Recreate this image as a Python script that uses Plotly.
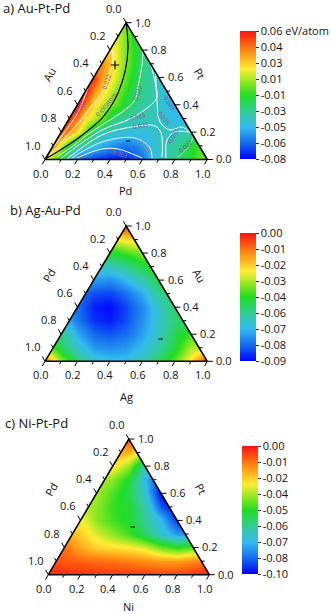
import plotly.graph_objects as go

W, H = 331, 614
FONT = "Open Sans"

# Colour map
COLORS = [[0.0, "#0000ff"], [0.12, "#1468f0"], [0.25, "#33bbee"], [0.37, "#33cc99"],
          [0.5, "#22dd22"], [0.6, "#8ee822"], [0.7, "#ffee33"], [0.85, "#ff8811"], [1.0, "#ff1111"]]

# Energy surfaces sampled on a rectangular grid over the triangle plane
# (rows: bottom to top; outside-triangle cells repeat the nearest edge value)
GRID_X_A = [i / 20 for i in range(21)]
GRID_X_BC = [i / 10 for i in range(11)]
GRID_Y = [i / 10 for i in range(11)]

Z_A = [
 [.03,-.004,-.02,-.035,-.063,-.066,-.072,-.075,-.078,-.077,-.075,-.068,-.063,-.045,-.04,-.033,-.027,-.018,-.012,-.003,.005],
 [.042,.042,.012,-.012,-.032,-.036,-.041,-.048,-.053,-.057,-.06,-.058,-.052,-.044,-.037,-.033,-.028,-.022,-.013,-.005,-.005],
 [.052,.052,.052,.038,.018,0,-.025,-.034,-.036,-.038,-.04,-.041,-.041,-.04,-.036,-.036,-.036,-.035,-.032,-.032,-.032],
 [.058,.058,.058,.056,.04,.018,.01,0,-.018,-.026,-.031,-.033,-.034,-.034,-.036,-.041,-.044,-.046,-.046,-.046,-.046],
 [.06,.06,.06,.06,.06,.042,.02,.011,.003,-.004,-.015,-.024,-.029,-.032,-.037,-.044,-.048,-.048,-.048,-.048,-.048],
 [.06,.06,.06,.06,.06,.06,.038,.024,.012,.001,-.008,-.019,-.025,-.03,-.037,-.044,-.044,-.044,-.044,-.044,-.044],
 [.054,.054,.054,.054,.054,.054,.054,.034,.022,.009,-.003,-.014,-.024,-.03,-.037,-.037,-.037,-.037,-.037,-.037,-.037],
 [.04,.04,.04,.04,.04,.04,.04,.04,.027,.013,.001,-.01,-.022,-.033,-.033,-.033,-.033,-.033,-.033,-.033,-.033],
 [.024,.024,.024,.024,.024,.024,.024,.024,.024,.012,.001,-.01,-.022,-.022,-.022,-.022,-.022,-.022,-.022,-.022,-.022],
 [.012,.012,.012,.012,.012,.012,.012,.012,.012,.012,0,-.012,-.012,-.012,-.012,-.012,-.012,-.012,-.012,-.012,-.012],
 [.004,.004,.004,.004,.004,.004,.004,.004,.004,.004,0,-.004,-.004,-.004,-.004,-.004,-.004,-.004,-.004,-.004,-.004],
]
Z_B = [
 [-.01,-.035,-.052,-.063,-.066,-.066,-.06,-.05,-.04,-.025,-.003],
 [-.035,-.05,-.063,-.072,-.074,-.072,-.066,-.058,-.047,-.033,-.033],
 [-.055,-.055,-.07,-.079,-.081,-.078,-.071,-.061,-.05,-.042,-.042],
 [-.065,-.065,-.077,-.085,-.087,-.082,-.073,-.063,-.053,-.053,-.053],
 [-.078,-.078,-.078,-.087,-.089,-.083,-.074,-.062,-.052,-.052,-.052],
 [-.078,-.078,-.078,-.082,-.083,-.078,-.069,-.056,-.05,-.05,-.05],
 [-.072,-.072,-.072,-.072,-.074,-.068,-.059,-.048,-.048,-.048,-.048],
 [-.06,-.06,-.06,-.06,-.061,-.056,-.048,-.042,-.042,-.042,-.042],
 [-.047,-.047,-.047,-.047,-.047,-.043,-.037,-.037,-.037,-.037,-.037],
 [-.03,-.03,-.03,-.03,-.03,-.025,-.023,-.023,-.023,-.023,-.023],
 [-.005,-.005,-.005,-.005,-.005,-.005,-.005,-.005,-.005,-.005,-.005],
]
Z_C = [
 [-.002,-.004,-.004,-.005,-.005,-.005,-.005,-.006,-.006,-.004,-.002],
 [-.008,-.009,-.010,-.011,-.012,-.014,-.016,-.018,-.018,-.015,-.012],
 [-.012,-.012,-.02,-.026,-.028,-.03,-.034,-.043,-.05,-.045,-.045],
 [-.02,-.02,-.025,-.033,-.04,-.047,-.058,-.07,-.08,-.08,-.08],
 [-.03,-.03,-.03,-.04,-.047,-.052,-.063,-.075,-.095,-.095,-.095],
 [-.035,-.035,-.035,-.04,-.048,-.052,-.065,-.09,-.1,-.1,-.1],
 [-.038,-.038,-.038,-.038,-.046,-.055,-.072,-.1,-.1,-.1,-.1],
 [-.036,-.036,-.036,-.036,-.04,-.052,-.075,-.095,-.095,-.095,-.095],
 [-.028,-.028,-.028,-.028,-.028,-.04,-.068,-.068,-.068,-.068,-.068],
 [-.018,-.018,-.018,-.018,-.018,-.022,-.035,-.035,-.035,-.035,-.035],
 [-.008,-.008,-.008,-.008,-.008,-.008,-.008,-.008,-.008,-.008,-.008],
]

# Iso-energy curves of panel a, as (Pd, Pt) compositions
ISO_ZERO_PD = [0, .104, .173, .207, .212, .200, .149, .078, .007]
ISO_ZERO_PT = [1, .815, .640, .486, .413, .303, .194, .091, .011]
ISO_P022_PD = [.013, .056, .084, .111, .089, .076, .045, .014]
ISO_P022_PT = [.800, .727, .632, .493, .376, .281, .157, .033]
ISO_P043_PD = [.003, .028, .029, .014, .003]
ISO_P043_PT = [.523, .376, .274, .157, .055]
ISO_M022_PD = [.204, .252, .308, .337, .312, .225, .180, .123, .065]
ISO_M022_PT = [.800, .691, .530, .435, .362, .252, .194, .099, .018]
ISO_M033_PD = [.303, .370, .461, .459, .384, .243, .118, .092]
ISO_M033_PT = [.697, .603, .457, .413, .303, .216, .048, 0]
ISO_M035_PD = [.712, .618, .555, .417, .261, .150, .130]
ISO_M035_PT = [.018, .194, .245, .238, .179, .033, 0]
ISO_M043_PD = [.654, .605, .476, .287, .160]
ISO_M043_PT = [.011, .084, .157, .128, .011]
ISO_M063_PD = [.192, .312, .411, .538, .592]
ISO_M063_PT = [.011, .077, .077, .033, .011]
ISO_R1_PD = [.365, .472, .572, .662, .725, .80]
ISO_R1_PT = [.635, .435, .274, .216, .238, .193]
ISO_R2_PD = [.740, .680, .700, .79]
ISO_R2_PT = [.011, .143, .201, .20]
ISO_R3_PD = [.808, .840, .830]
ISO_R3_PT = [.011, .106, .164]

LABEL_TEXT = ["-0.063", "0.022", "0 eV/atom", "-0.022", "-0.043", "-0.033", "-0.035", "-0.035",
              "-0.043", "-0.033", "-0.022", "-0.063"]
LABEL_PD = [.029, .096, .177, .334, .555, .409, .463, .579, .570, .703, .816, .439]
LABEL_PT = [.373, .568, .398, .483, .410, .312, .244, .300, .093, .166, .093, .039]
LABEL_ANGLE = [-60, -70, -50, -70, 60, -15, -10, 50, 50, -60, -40, 15]
LABEL_COLOR = ["#7a4fa0"] * 8 + ["#a8805a", "#6a4fb0", "#6a4fb0", "#a8805a"]

AXIS_TICKS = ["0.0", "0.2", "0.4", "0.6", "0.8", "1.0"]
TICK_VALUES = [0, .2, .4, .6, .8, 1]
MINOR_VALUES = [.1, .3, .5, .7, .9]

BAR_A = ["-0.08", "-0.06", "-0.05", "-0.03", "-0.01", "0.01", "0.03", "0.04", "0.06 eV/atom"]
BAR_B = ["-0.09", "-0.08", "-0.07", "-0.06", "-0.04", "-0.03", "-0.02", "-0.01", "0.00"]
BAR_C = ["-0.10", "-0.08", "-0.07", "-0.06", "-0.05", "-0.04", "-0.02", "-0.01", "0.00"]

PANELS = [
    dict(name="a", title="a) Au-Pt-Pd", z=Z_A, gx=GRID_X_A, zr=(-.08, .06), bar=BAR_A,
         bl=(45, 159.5), w=162.3, h=136.8, dom=(0, 200), tpx=(1, 8),
         bottom="Pd", left="Au", right="Pt", bpx=(125, 190), lpx=(49, 74), rpx=(200, 73),
         bar_px=(240, 31.7, 159.3), marks=[("plus", .086, .691), ("minus", .444, .135)]),
    dict(name="b", title="b) Ag-Au-Pd", z=Z_B, gx=GRID_X_BC, zr=(-.09, 0), bar=BAR_B,
         bl=(45, 361.3), w=162.3, h=135.3, dom=(200, 405), tpx=(8, 210),
         bottom="Ag", left="Pd", right="Au", bpx=(126, 396.7), lpx=(49, 276), rpx=(199, 276),
         bar_px=(240, 233.3, 361.3), marks=[("minus", .63, .165)]),
    dict(name="c", title="c) Ni-Pt-Pd", z=Z_C, gx=GRID_X_BC, zr=(-.10, 0), bar=BAR_C,
         bl=(48.3, 574.7), w=161, h=135.7, dom=(405, 614), tpx=(3, 423),
         bottom="Ni", left="Pd", right="Pt", bpx=(128.3, 606.5), lpx=(50.7, 489), rpx=(201.7, 489),
         bar_px=(242.3, 446.3, 574.3), marks=[("minus", .349, .351)]),
]

ISO_LINES = [
    (ISO_ZERO_PD, ISO_ZERO_PT, "black", 1.2), (ISO_P022_PD, ISO_P022_PT, "white", 1),
    (ISO_P043_PD, ISO_P043_PT, "white", 1), (ISO_M022_PD, ISO_M022_PT, "white", 1),
    (ISO_M033_PD, ISO_M033_PT, "white", 1), (ISO_M035_PD, ISO_M035_PT, "white", 1),
    (ISO_M043_PD, ISO_M043_PT, "rgba(255,255,255,.85)", 1), (ISO_M063_PD, ISO_M063_PT, "white", 1),
    (ISO_R1_PD, ISO_R1_PT, "white", 1), (ISO_R2_PD, ISO_R2_PT, "white", 1),
    (ISO_R3_PD, ISO_R3_PT, "rgba(255,255,255,.45)", 1),
]


def plane(first, pt):
    """(bottom-axis fraction, right-axis fraction) -> triangle plane coordinates."""
    return first + pt / 2, pt


fig = go.Figure()
annotations = []

for i, p in enumerate(PANELS):
    n = "" if i == 0 else str(i + 1)
    xa, ya = "x" + n, "y" + n
    blx, bly = p["bl"]
    w, h = p["w"], p["h"]
    top, bot = p["dom"]
    # Axis ranges chosen so that the triangle plane lands on the reference's position
    fig.layout["xaxis" + n] = dict(domain=[0, 1], range=[-blx / w, (W - blx) / w], visible=False, fixedrange=True)
    fig.layout["yaxis" + n] = dict(domain=[1 - bot / H, 1 - top / H],
                                   range=[(bly - bot) / h, (bly - top) / h], visible=False, fixedrange=True)
    px2x = lambda v: (v - blx) / w
    px2y = lambda v: (bly - v) / h
    zmin, zmax = p["zr"]
    bx, btop, bbot = p["bar_px"]
    nt = len(p["bar"])
    fig.add_trace(go.Heatmap(
        x=p["gx"], y=GRID_Y, z=p["z"], zmin=zmin, zmax=zmax, zsmooth="best", colorscale=COLORS,
        xaxis=xa, yaxis=ya, hoverinfo="skip",
        colorbar=dict(x=bx / W, xanchor="left", xpad=0, ypad=0, thickness=16, thicknessmode="pixels",
                      len=(bbot - btop) / H, lenmode="fraction", y=1 - bbot / H, yanchor="bottom",
                      outlinewidth=0, ticks="outside", ticklen=3, tickwidth=1, tickcolor="#333",
                      tickvals=[zmin + (zmax - zmin) * k / (nt - 1) for k in range(nt)],
                      ticktext=p["bar"], tickfont=dict(family=FONT, size=11, color="#111"))))
    # White masks that clip the surface to the triangle
    for mx, my in (([-.3, 0, .5, .5, -.3], [-.3, 0, 1, 1.3, 1.3]),
                   ([1.3, 1, .5, .5, 1.3], [-.3, 0, 1, 1.3, 1.3]),
                   ([-.3, 1.3, 1.3, -.3], [-.3, -.3, 0, 0])):
        fig.add_trace(go.Scatter(x=mx, y=my, mode="lines", fill="toself", fillcolor="white",
                                 line=dict(width=0, color="white"), xaxis=xa, yaxis=ya, hoverinfo="skip"))
    if p["name"] == "a":
        for pd_, pt_, col, lw in ISO_LINES:
            pts = [plane(a, b) for a, b in zip(pd_, pt_)]
            fig.add_trace(go.Scatter(x=[q[0] for q in pts], y=[q[1] for q in pts], mode="lines",
                                     line=dict(color=col, width=lw, shape="spline", smoothing=1),
                                     xaxis=xa, yaxis=ya, hoverinfo="skip"))
        for t, a, b, ang, col in zip(LABEL_TEXT, LABEL_PD, LABEL_PT, LABEL_ANGLE, LABEL_COLOR):
            qx, qy = plane(a, b)
            annotations.append(dict(x=qx, y=qy, xref=xa, yref=ya, text=t, textangle=ang, showarrow=False,
                                    font=dict(family=FONT, size=6, color=col)))
    # Triangle outline
    fig.add_trace(go.Scatter(x=[0, 1, .5, 0], y=[0, 0, 1, 0], mode="lines",
                             line=dict(color="black", width=1.6), xaxis=xa, yaxis=ya, hoverinfo="skip"))
    # Ticks on the three axes
    for vals, ln in ((TICK_VALUES, 5.5), (MINOR_VALUES, 3.5)):
        tx, ty = [], []
        dxw, dyh = ln / w, ln / h
        for v in vals:
            tx += [v, v - .5 * dxw, None]; ty += [0, -.87 * dyh, None]
            tx += [1 - v / 2, 1 - v / 2 + dxw, None]; ty += [v, v, None]
            tx += [.5 - v / 2, .5 - v / 2 - .5 * dxw, None]; ty += [1 - v, 1 - v + .87 * dyh, None]
        fig.add_trace(go.Scatter(x=tx, y=ty, mode="lines", line=dict(color="black", width=1),
                                 xaxis=xa, yaxis=ya, hoverinfo="skip"))
    # Tick labels, offset in pixels from the tick position
    for v, s in zip(TICK_VALUES, AXIS_TICKS):
        for qx, qy, ox, oy in ((v, 0, -4.5, 13.5), (1 - v / 2, v, 16.5, -0.7), (.5 - v / 2, 1 - v, -12.7, -14.5)):
            annotations.append(dict(x=qx, y=qy, xref=xa, yref=ya, text=s, showarrow=False,
                                    xshift=ox, yshift=-oy, font=dict(family=FONT, size=11, color="#111")))
    # Axis titles and panel title
    for key, pkey, ang in (("bottom", "bpx", 0), ("left", "lpx", -60), ("right", "rpx", 60)):
        annotations.append(dict(x=px2x(p[pkey][0]), y=px2y(p[pkey][1]), xref=xa, yref=ya, text=p[key],
                                textangle=ang, showarrow=False, font=dict(family=FONT, size=11, color="#111")))
    annotations.append(dict(x=px2x(p["tpx"][0]), y=px2y(p["tpx"][1]), xref=xa, yref=ya, text=p["title"],
                            xanchor="left", showarrow=False, font=dict(family=FONT, size=13, color="#111")))
    # + / - extremum markers
    for kind, a, b in p["marks"]:
        qx, qy = plane(a, b)
        sym, size = ("cross-thin", 6) if kind == "plus" else ("line-ew", 3)
        fig.add_trace(go.Scatter(x=[qx], y=[qy], mode="markers", xaxis=xa, yaxis=ya, hoverinfo="skip",
                                 marker=dict(symbol=sym, size=size, line=dict(color="black", width=1.1))))

fig.update_layout(width=W, height=H, margin=dict(l=0, r=0, t=0, b=0, autoexpand=False), showlegend=False,
                  paper_bgcolor="white", plot_bgcolor="rgba(0,0,0,0)", annotations=annotations)
fig.write_html("out.html", config=dict(displayModeBar=False),
               post_script="document.body.style.margin='0';document.documentElement.style.overflow='hidden';")
